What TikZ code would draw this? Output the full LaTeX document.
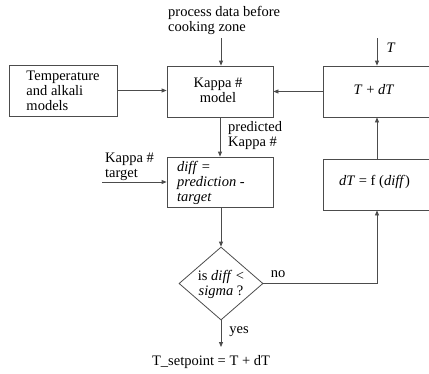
\documentclass[tikz,border=0pt]{standalone}
\usepackage{fontspec}
\setmainfont{Liberation Serif}
\usetikzlibrary{arrows.meta,shapes.geometric}
\begin{document}
\begin{tikzpicture}[x=1pt,y=-1pt,
  line/.style={draw=black!70, line width=0.8pt},
  arr/.style={line, -{Triangle[length=5pt,width=4pt]}},
  box/.style={line, rectangle, inner sep=0pt, minimum height=51pt},
  txt/.style={font=\fontsize{14.5}{15}\selectfont, inner sep=0pt, align=left}]
\useasboundingbox (0,0) rectangle (429,373);
% boxes
\node[box, minimum width=108pt] (temp) at (63,90.5) {};
\node[box, minimum width=106pt] (kappa) at (220,91.5) {};
\node[box, minimum width=110pt] (tdt) at (378,91.5) {};
\node[box, minimum width=106pt, minimum height=50pt] (diff) at (220,182) {};
\node[box, minimum width=110pt] (dT) at (378,184.5) {};
\node[line, diamond, minimum width=84pt, minimum height=73pt, inner sep=0pt] (dia) at (221,283.5) {};
% texts
\node[txt] (temptxt) at (63,90.5) {Temperature\\and alkali\\models};
\node[txt, align=center] (kappatxt) at (218,90) {Kappa \#\\model};
\node[txt] (tdttxt) at (374,90) {\textit{T} + \textit{dT}};
\node[txt, anchor=west] (difftxt) at (177,183) {\textit{diff} =\\\textit{prediction} -\\\textit{target}};
\node[txt] (dTtxt) at (374.5,182) {\textit{dT} = f (\textit{diff})};
\node[txt, align=center] (diatxt) at (221,284) {is \textit{diff} <\\\textit{sigma} ?};
\node[txt, anchor=west] (proc) at (168,20.5) {process data before\\cooking zone};
\node[txt, anchor=west] (pred) at (228,135.5) {predicted\\Kappa \#};
\node[txt, anchor=west] (target) at (105,167) {Kappa \#\\target};
\node[txt] (tlab) at (391,48) {\textit{T}};
\node[txt] (no) at (278,274) {no};
\node[txt] (yes) at (239,332) {yes};
\node[txt] (setp) at (211,362) {T\_setpoint = T + dT};
% connector ends
\coordinate (procend) at (221,38);
\coordinate (tin) at (377,38);
\coordinate (tgt) at (102,182);
\coordinate (yesend) at (221,347);
% connectors
\draw[arr] (temp.east) -- (temp.east -| kappa.west);
\draw[arr] (procend) -- (procend |- kappa.north);
\draw[arr] (tin) -- (tin |- tdt.north);
\draw[arr] (tdt.west) -- (tdt.west -| kappa.east);
\draw[arr] (kappa.south) -- (diff.north);
\draw[arr] (tgt) -- (tgt -| diff.west);
\draw[arr] (dia.north |- diff.south) -- (dia.north);
\draw[arr] (dia.south) -- (yesend);
\draw[arr] (dia.east) -| (tin |- dT.south);
\draw[arr] (tin |- dT.north) -- (tin |- tdt.south);
\end{tikzpicture}
\end{document}
